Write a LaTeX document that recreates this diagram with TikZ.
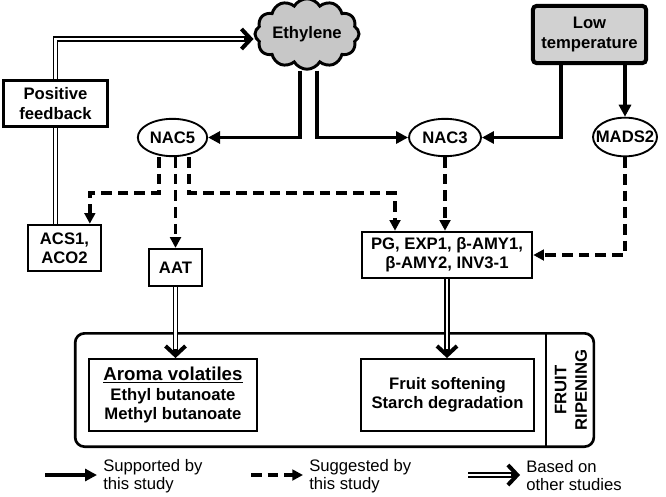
\documentclass[tikz,border=0pt]{standalone}
\usepackage{fontspec}
\setmainfont{Liberation Sans}
\usetikzlibrary{arrows.meta,shapes.geometric,shapes.symbols}
\newcommand*\figfont{\fontsize{12.5}{14.5}\selectfont\bfseries}
\newcommand*\legfont{\fontsize{12.5}{13.5}\selectfont}
\tikzset{
    box/.style      = {draw, rectangle, line width=1.4pt, fill=white,
                       inner sep=1pt, align=center, font=\figfont},
    feedbox/.style  = {box, line width=2.2pt},
    tempbox/.style  = {box, line width=3pt, fill=black!18, rounded corners=3pt},
    ethcloud/.style = {draw, cloud, cloud puffs=12, cloud puff arc=120, aspect=1.7,
                       line width=2.2pt, fill=black!22, inner sep=0pt, font=\figfont},
    tf/.style       = {draw, ellipse, line width=1.4pt, fill=white,
                       inner xsep=-6pt, inner ysep=0pt, minimum height=28pt, font=\figfont},
    ripeframe/.style= {draw, rectangle, line width=2pt, rounded corners=7pt},
    supported/.style= {line width=2.8pt, -{Triangle[length=9pt,width=9pt]}},
    suggested/.style= {line width=2.8pt, dash pattern=on 8pt off 4.5pt,
                       -{Triangle[length=8pt,width=8pt]}},
    basedline/.style= {line width=4pt, postaction={draw=white, line width=1.9pt}},
    based/.style    = {line width=4pt, -{Straight Barb[length=7pt,width=15pt,line width=3pt]},
                       postaction={draw=white, line width=1.9pt, -, shorten >=7pt}},
    legtext/.style  = {anchor=west, align=left, inner sep=0pt, font=\legfont},
}
\begin{document}
\begin{tikzpicture}[x=0.75pt,y=-0.75pt,line join=miter]
    \useasboundingbox (0,0) rectangle (666,496);

    % Signals and feedback
    \node[ethcloud, minimum width=78pt, minimum height=46pt] (eth) at (307,34) {Ethylene};
    \node[tempbox, minimum width=85pt, minimum height=43pt] (lowt) at (589.5,34.5) {Low\\temperature};
    \node[feedbox, minimum width=78pt, minimum height=35pt] (fb) at (55.5,103.5) {Positive\\feedback};

    % Transcription factors
    \node[tf, minimum width=52pt] (nac5) at (172.5,137.5) {NAC5};
    \node[tf, minimum width=54pt] (nac3) at (445,137.5) {NAC3};
    \node[tf, minimum width=48pt, minimum height=29pt] (mads) at (625,137) {MADS2};

    % Target genes
    \node[box, minimum width=55pt, minimum height=35pt] (acs) at (64.5,248) {ACS1,\\ACO2};
    \node[box, minimum width=40pt, minimum height=28pt] (aat) at (175.5,267.5) {AAT};
    \node[box, minimum width=128pt, minimum height=35pt] (pg) at (447,255) {PG, EXP1, β-AMY1,\\β-AMY2, INV3-1};

    % Fruit ripening frame
    \node[ripeframe, minimum width=389pt, minimum height=85pt] (ripe) at (334.5,390) {};
    \coordinate (divx) at (546,390);
    \draw[line width=1.6pt] (ripe.north -| divx) -- (ripe.south -| divx);
    \node[rotate=90, align=center, inner sep=0pt,
          font=\fontsize{12.5}{15.5}\selectfont\bfseries] (ripelab) at (571,390) {FRUIT\\RIPENING};
    \node[box, minimum width=126pt, minimum height=54pt] (aroma) at (173,395)
        {{\fontsize{14}{16}\selectfont\underline{Aroma volatiles}}\\Ethyl butanoate\\Methyl butanoate};
    \node[box, minimum width=130pt, minimum height=54pt] (fruit) at (447.5,395)
        {Fruit softening\\Starch degradation};

    % Solid arrows
    \draw[supported] ([xshift=-5.25pt]eth.south) |- (nac5.east);
    \draw[supported] ([xshift=7.5pt]eth.south) |- (nac3.west);
    \draw[supported] ([xshift=-21.4pt]lowt.south) |- (nac3.east);
    \draw[supported] (lowt.south -| mads.north) -- (mads.north);

    % Dashed arrows
    \coordinate (fork) at (172,193);
    \draw[suggested] ([xshift=-10pt]nac5.south) |- ([xshift=19pt]acs.north |- fork) -- ([xshift=19pt]acs.north);
    \draw[suggested] (nac5.south -| aat.north) -- (aat.north);
    \draw[suggested] ([xshift=12.4pt]nac5.south) |- ([xshift=-39pt]pg.north |- fork) -- ([xshift=-39pt]pg.north);
    \draw[suggested] (nac3.south) -- (nac3.south |- pg.north);
    \draw[suggested] (mads.south) |- (pg.east);

    % Double arrows
    \draw[basedline] (acs.north -| fb.south) -- (fb.south);
    \draw[based] (fb.north) |- ([yshift=-3.75pt]eth.west);
    \draw[based] (aat.south) -- (aat.south |- aroma.north);
    \draw[based] (pg.south) -- (pg.south |- fruit.north);

    % Legend
    \foreach \sty/\xa/\xb/\txt [count=\i] in {supported/45/97/{Supported by\\this study},
            suggested/251/303/{Suggested by\\this study}, based/468/520/{Based on\\other studies}} {
        \coordinate (legs-\i) at (\xa,475);
        \coordinate (lege-\i) at (\xb,475);
        \draw[\sty] (legs-\i) -- (lege-\i);
        \node[legtext] (legt-\i) at (\xb+6,476) {\txt};
    }
\end{tikzpicture}
\end{document}
